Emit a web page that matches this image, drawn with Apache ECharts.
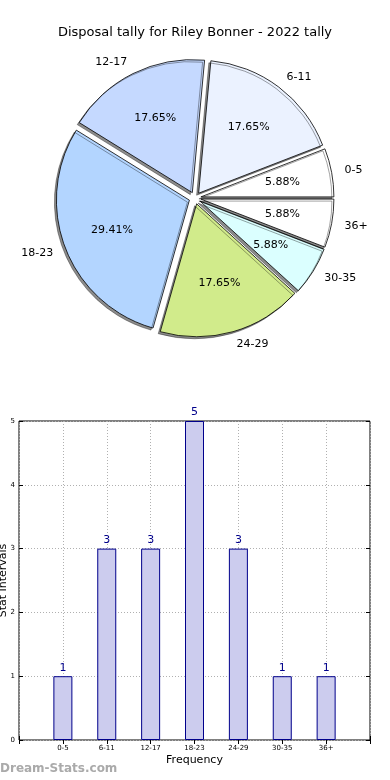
<!DOCTYPE html>
<html><head><meta charset="utf-8">
<script src="https://cdn.jsdelivr.net/npm/echarts@6/dist/echarts.min.js"></script>
<style>html,body{margin:0;padding:0;background:#fff}#c{width:390px;height:780px}</style>
</head><body><div id="c"></div>
<script>
const titleText = 'Disposal tally for Riley Bonner - 2022 tally';
const categories = ['0-5', '6-11', '12-17', '18-23', '24-29', '30-35', '36+'];
const values = [1, 3, 3, 5, 3, 1, 1];
const sliceColors = ['#ffffff', '#ebf2ff', '#c5d9ff', '#b3d5ff', '#d1eb8b', '#dbffff', '#ffffff'];
const yTicks = [0, 1, 2, 3, 4, 5];

const FONT = 'DejaVu Sans';
const chart = echarts.init(document.getElementById('c'), null, {renderer: 'canvas'});

const pieCenter = [195, 198];
const R = 133;

const pieData = categories.map((c, i) => ({
  name: c, value: values[i], selected: true,
  itemStyle: {color: sliceColors[i]},
  select: {itemStyle: {color: sliceColors[i]}}
}));
const pctData = categories.map((c, i) => ({name: c, value: values[i], selected: true}));

const xCats = [''].concat(categories, ['']);
const barData = ['-'].concat(values, ['-']);

chart.setOption({
  animation: false,
  textStyle: {fontFamily: FONT},
  title: {
    text: titleText, left: 'center', top: 21,
    textStyle: {fontFamily: FONT, fontSize: 13, fontWeight: 'normal', color: '#000'}
  },
  graphic: [{
    type: 'text', left: 0, top: 763,
    style: {text: 'Dream-Stats.com', font: 'bold 12px "DejaVu Sans"', fill: '#aaaaaa'}
  }],
  grid: {left: 19, right: 20, top: 421, bottom: 40, show: true, borderColor: '#000', borderWidth: 1,
    containLabel: false, outerBoundsMode: 'none'},
  xAxis: [{
    type: 'category', data: xCats, boundaryGap: false, gridIndex: 0,
    name: 'Frequency', nameLocation: 'middle', nameGap: 15, nameMoveOverlap: false,
    nameTextStyle: {fontFamily: FONT, fontSize: 11, color: '#000'},
    axisLine: {show: false},
    axisTick: {show: true, inside: true, length: 4, interval: 0, lineStyle: {color: '#000'}},
    axisLabel: {fontFamily: FONT, fontSize: 7, color: '#000', margin: 5, interval: 0},
    splitLine: {show: true, interval: 0, lineStyle: {color: '#b0b0b0', type: [1, 2], width: 1}}
  }, {
    type: 'category', data: xCats, boundaryGap: false, position: 'top', gridIndex: 0,
    axisLine: {show: false},
    axisTick: {show: true, inside: true, length: 4, interval: 0, lineStyle: {color: '#000'}},
    axisLabel: {show: false}, splitLine: {show: false}
  }],
  yAxis: [{
    type: 'value', min: 0, max: 5, interval: 1,
    name: 'Stat Intervals', nameLocation: 'middle', nameGap: 10, nameRotate: 90, nameMoveOverlap: false,
    nameTextStyle: {fontFamily: FONT, fontSize: 11, color: '#000'},
    axisLine: {show: false},
    axisTick: {show: true, inside: true, length: 4, lineStyle: {color: '#000'}},
    axisLabel: {fontFamily: FONT, fontSize: 7, color: '#000', margin: 4,
      formatter: v => yTicks.includes(v) ? String(v) : ''},
    splitLine: {show: true, lineStyle: {color: '#b0b0b0', type: [1, 2], width: 1}}
  }, {
    type: 'value', min: 0, max: 5, interval: 1, position: 'right',
    axisLine: {show: false},
    axisTick: {show: true, inside: true, length: 4, lineStyle: {color: '#000'}},
    axisLabel: {show: false}, splitLine: {show: false}
  }],
  series: [{
    type: 'pie', center: pieCenter, radius: [0, R],
    startAngle: 0, clockwise: false,
    selectedMode: 'multiple', selectedOffset: 6,
    avoidLabelOverlap: false,
    emphasis: {disabled: true},
    itemStyle: {borderColor: '#000', borderWidth: 0.8,
      shadowColor: 'rgba(0,0,0,0.45)', shadowBlur: 0, shadowOffsetX: -2, shadowOffsetY: 2},
    label: {show: true, position: 'outside', formatter: '{b}', fontFamily: FONT, fontSize: 11, color: '#000',
      distanceToLabelLine: 0},
    labelLine: {show: false, length: 13, length2: 0},
    data: pieData, z: 2
  }, {
    type: 'pie', center: pieCenter, radius: [68, 92],
    startAngle: 0, clockwise: false,
    selectedMode: 'multiple', selectedOffset: 6,
    avoidLabelOverlap: false, silent: true,
    emphasis: {disabled: true},
    itemStyle: {color: 'rgba(0,0,0,0)', borderWidth: 0},
    select: {itemStyle: {color: 'rgba(0,0,0,0)', borderWidth: 0}},
    label: {show: true, position: 'inside', rotate: 0, formatter: '{d}%', fontFamily: FONT, fontSize: 11, color: '#000'},
    labelLine: {show: false},
    data: pctData, z: 3
  }, {
    type: 'bar', xAxisIndex: 0, yAxisIndex: 0,
    data: barData, barWidth: 19,
    itemStyle: {color: '#ccccee', borderColor: '#00008b', borderWidth: 1},
    label: {show: true, position: 'top', distance: 3, fontFamily: FONT, fontSize: 11, color: '#00008b'},
    emphasis: {disabled: true}
  }]
});
</script></body></html>
